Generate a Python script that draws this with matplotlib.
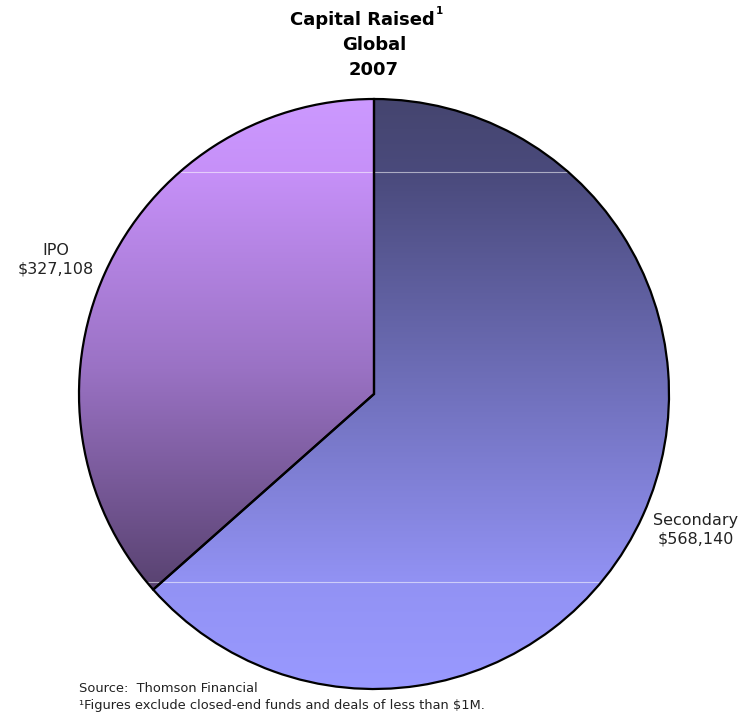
import matplotlib.pyplot as plt
import numpy as np
from matplotlib.colors import LinearSegmentedColormap

# capital raised by offering type, 2007 ($M)
labels = ["Secondary", "IPO"]
values = [568140, 327108]

# vertical colour ramps for each slice (position 0 = top, 1 = bottom of its box)
secondary_stops = [(0.0, "#45456f"), (0.125, "#4a4a7c"), (0.82, "#9292f4"), (1.0, "#9999ff")]
ipo_stops = [(0.0, "#cc99ff"), (0.15, "#c690f8"), (0.55, "#9a72c4"), (1.0, "#584270")]

W, H = 750, 715
fig = plt.figure(figsize=(W / 100, H / 100), dpi=100)
ax = fig.add_axes([0, 0, 1, 1])

cx, cy, r = 374, H - 394, 295

wedges, _ = ax.pie(
    values,
    startangle=90,
    counterclock=False,
    center=(cx, cy),
    radius=r,
    wedgeprops=dict(facecolor="none", edgecolor="black", linewidth=1.6),
)

# fill each wedge with a gradient clipped to its outline
for wedge, stops in zip(wedges, [secondary_stops, ipo_stops]):
    cmap = LinearSegmentedColormap.from_list("ramp", stops)
    ext = wedge.get_path().get_extents(wedge.get_transform() + ax.transData.inverted())
    grad = np.linspace(0, 1, 256).reshape(-1, 1)
    im = ax.imshow(
        grad,
        cmap=cmap,
        aspect="auto",
        extent=(ext.x0, ext.x1, ext.y0, ext.y1),
        origin="upper",
        zorder=0,
    )
    im.set_clip_path(wedge)

# faint banding lines across the fill
for yb in [H - 172, H - 582]:
    for wedge in wedges:
        (ln,) = ax.plot([cx - r, cx + r], [yb, yb], color="white", alpha=0.55,
                        linewidth=0.8, zorder=0.5)
        ln.set_clip_path(wedge)

ax.set_xlim(0, W)
ax.set_ylim(0, H)
ax.axis("off")

ax.text(696, H - 530, f"{labels[0]}\n${values[0]:,}", ha="center", va="center",
        fontsize=11.5, color="#222222", linespacing=1.3)
ax.text(56, H - 260, f"{labels[1]}\n${values[1]:,}", ha="center", va="center",
        fontsize=11.5, color="#222222", linespacing=1.3)

# title lines, with the footnote marker as a small raised digit
ax.text(362, H - 20, "Capital Raised", ha="center", va="center",
        fontsize=13, fontweight="bold", color="black")
ax.text(436, H - 11, "1", ha="left", va="center",
        fontsize=7.5, fontweight="bold", color="black")
ax.text(374, H - 45, "Global", ha="center", va="center",
        fontsize=13, fontweight="bold", color="black")
ax.text(374, H - 70, "2007", ha="center", va="center",
        fontsize=13, fontweight="bold", color="black")

ax.text(79, H - 688, "Source:  Thomson Financial", ha="left", va="center",
        fontsize=9.4, color="#222222")
ax.text(79, H - 706, "¹Figures exclude closed-end funds and deals of less than $1M.",
        ha="left", va="center", fontsize=9.4, color="#222222")

fig.savefig("out.png", dpi=100)
